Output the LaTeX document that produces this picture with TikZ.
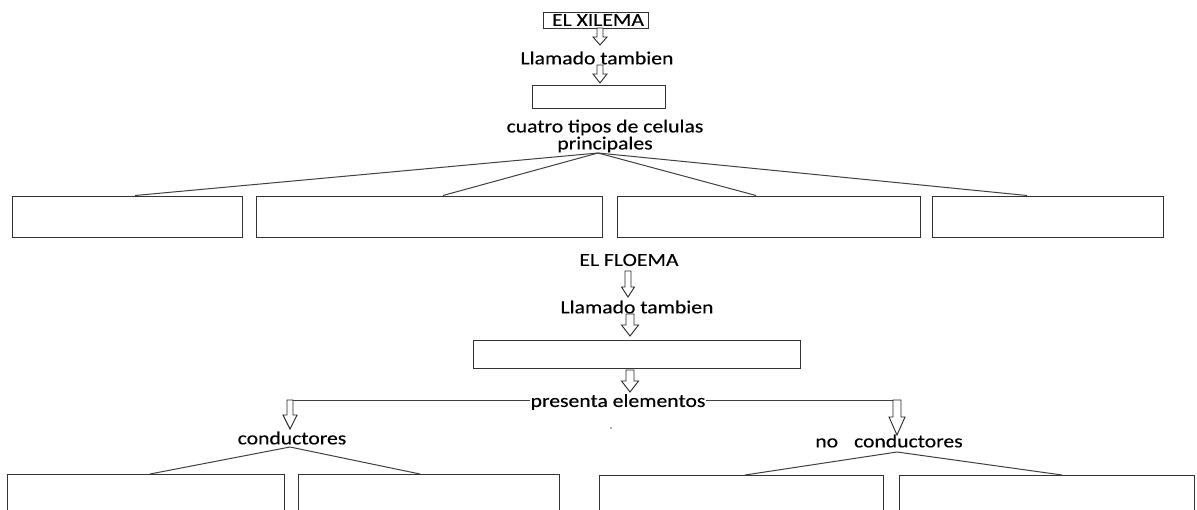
\documentclass[tikz,border=0pt]{standalone}
\usepackage{fontspec}
\setmainfont{Carlito}[FakeStretch=1.17, FakeBold=0.25]
\usetikzlibrary{calc}
\tikzset{
  lbl/.style={font=\fontsize{18.5}{17}\selectfont, inner sep=0pt, text=black},
  emptybox/.style={draw=black!80, line width=1pt, fill=white},
  conn/.style={draw=black!75, line width=1pt},
  barr/.style={draw=black!85, line width=0.9pt, fill=white},
}
% block arrow: #1 top coord, #2 tip coord, #3 shaft half, #4 head half, #5 head length
\newcommand\blockarrow[5]{%
  \draw[barr] ($(#1)+(-#3,0)$) -- ($(#2)+(-#3,-#5)$) -- ($(#2)+(-#4,-#5)$) -- (#2)
    -- ($(#2)+(#4,-#5)$) -- ($(#2)+(#3,-#5)$) -- ($(#1)+(#3,0)$) -- cycle;}
\begin{document}
\begin{tikzpicture}[x=1pt,y=-1pt]
\useasboundingbox (0,0) rectangle (1197,509);
\clip (0,0) rectangle (1197,509);
\fill[white] (0,0) rectangle (1197,509);

% ---------- XILEMA ----------
\node[emptybox, minimum width=105pt, minimum height=16pt, inner sep=0pt] (xil) at (595.5,20) {};
\node[lbl] (xiltxt) at (598,20) {EL XILEMA};
\node[lbl] (ll1) at (597,58) {Llamado tambien};
\node[emptybox, minimum width=133pt, minimum height=23pt, inner sep=0pt] (b0) at (598.5,96.5) {};
\node[lbl, align=center] (cuatro) at (605,136) {cuatro tipos de celulas\\principales};

\coordinate (a1t) at (600,28); \coordinate (a1b) at (600,45);
\coordinate (a2t) at (600,65); \coordinate (a2b) at (600,83);
\blockarrow{a1t}{a1b}{3}{7}{8}
\blockarrow{a2t}{a2b}{3}{7}{9}

\coordinate (apex1) at (598,153);
\node[emptybox, minimum width=230pt, minimum height=41pt, inner sep=0pt] (c1) at (127,216.5) {};
\node[emptybox, minimum width=346pt, minimum height=41pt, inner sep=0pt] (c2) at (429,216.5) {};
\node[emptybox, minimum width=303pt, minimum height=41pt, inner sep=0pt] (c3) at (768.5,216.5) {};
\node[emptybox, minimum width=231pt, minimum height=41pt, inner sep=0pt] (c4) at (1047.5,216.5) {};
\draw[conn] (apex1) -- (c1.north -| 135,0);
\draw[conn] (apex1) -- (c2.north -| 443,0);
\draw[conn] (apex1) -- (c3.north -| 756,0);
\draw[conn] (apex1) -- (c4.north -| 1027,0);

% ---------- FLOEMA ----------
\node[lbl] (flo) at (629,260) {EL FLOEMA};
\node[lbl] (ll2) at (637,307) {Llamado tambien};
\node[emptybox, minimum width=327pt, minimum height=28pt, inner sep=0pt] (f0) at (636.5,354) {};
\node[lbl] (pres) at (618,402) {presenta elementos};

\coordinate (a3t) at (628,271); \coordinate (a3b) at (628,297);
\coordinate (a4t) at (630,314); \coordinate (a4b) at (630,336);
\coordinate (a5t) at (630,370); \coordinate (a5b) at (630,392);
\blockarrow{a3t}{a3b}{3}{6.5}{10}
\blockarrow{a4t}{a4b}{4}{8.5}{11}
\blockarrow{a5t}{a5b}{4}{8.5}{11}

\coordinate (lt) at (290,400); \coordinate (lb) at (290,429);
\coordinate (rt) at (897,400); \coordinate (rb) at (897,435);
\draw[conn] (lt) -- (pres.west |- lt);
\draw[conn] (pres.east |- rt) -- (rt);
\blockarrow{lt}{lb}{3}{7}{14}
\blockarrow{rt}{rb}{4}{8}{18}

\node[lbl] (cond) at (292,438) {conductores};
\node[lbl] (nocond) at (889,441) {no\hspace{16pt}conductores};
\fill[black!60] (611,428) circle (0.8pt);

\coordinate (apex2) at (290,447);
\coordinate (apex3) at (897,452);
\node[emptybox, minimum width=277pt, minimum height=60pt, inner sep=0pt, anchor=north west] (d1) at (7,474) {};
\node[emptybox, minimum width=261pt, minimum height=60pt, inner sep=0pt, anchor=north west] (d2) at (298,474) {};
\node[emptybox, minimum width=284pt, minimum height=60pt, inner sep=0pt, anchor=north west] (d3) at (599,475) {};
\node[emptybox, minimum width=295pt, minimum height=60pt, inner sep=0pt, anchor=north west] (d4) at (899,475) {};
\draw[conn] (apex2) -- (d1.north -| 150,0);
\draw[conn] (apex2) -- (d2.north -| 420,0);
\draw[conn] (apex3) -- (d3.north -| 745,0);
\draw[conn] (apex3) -- (d4.north -| 1062,0);
\end{tikzpicture}
\end{document}
